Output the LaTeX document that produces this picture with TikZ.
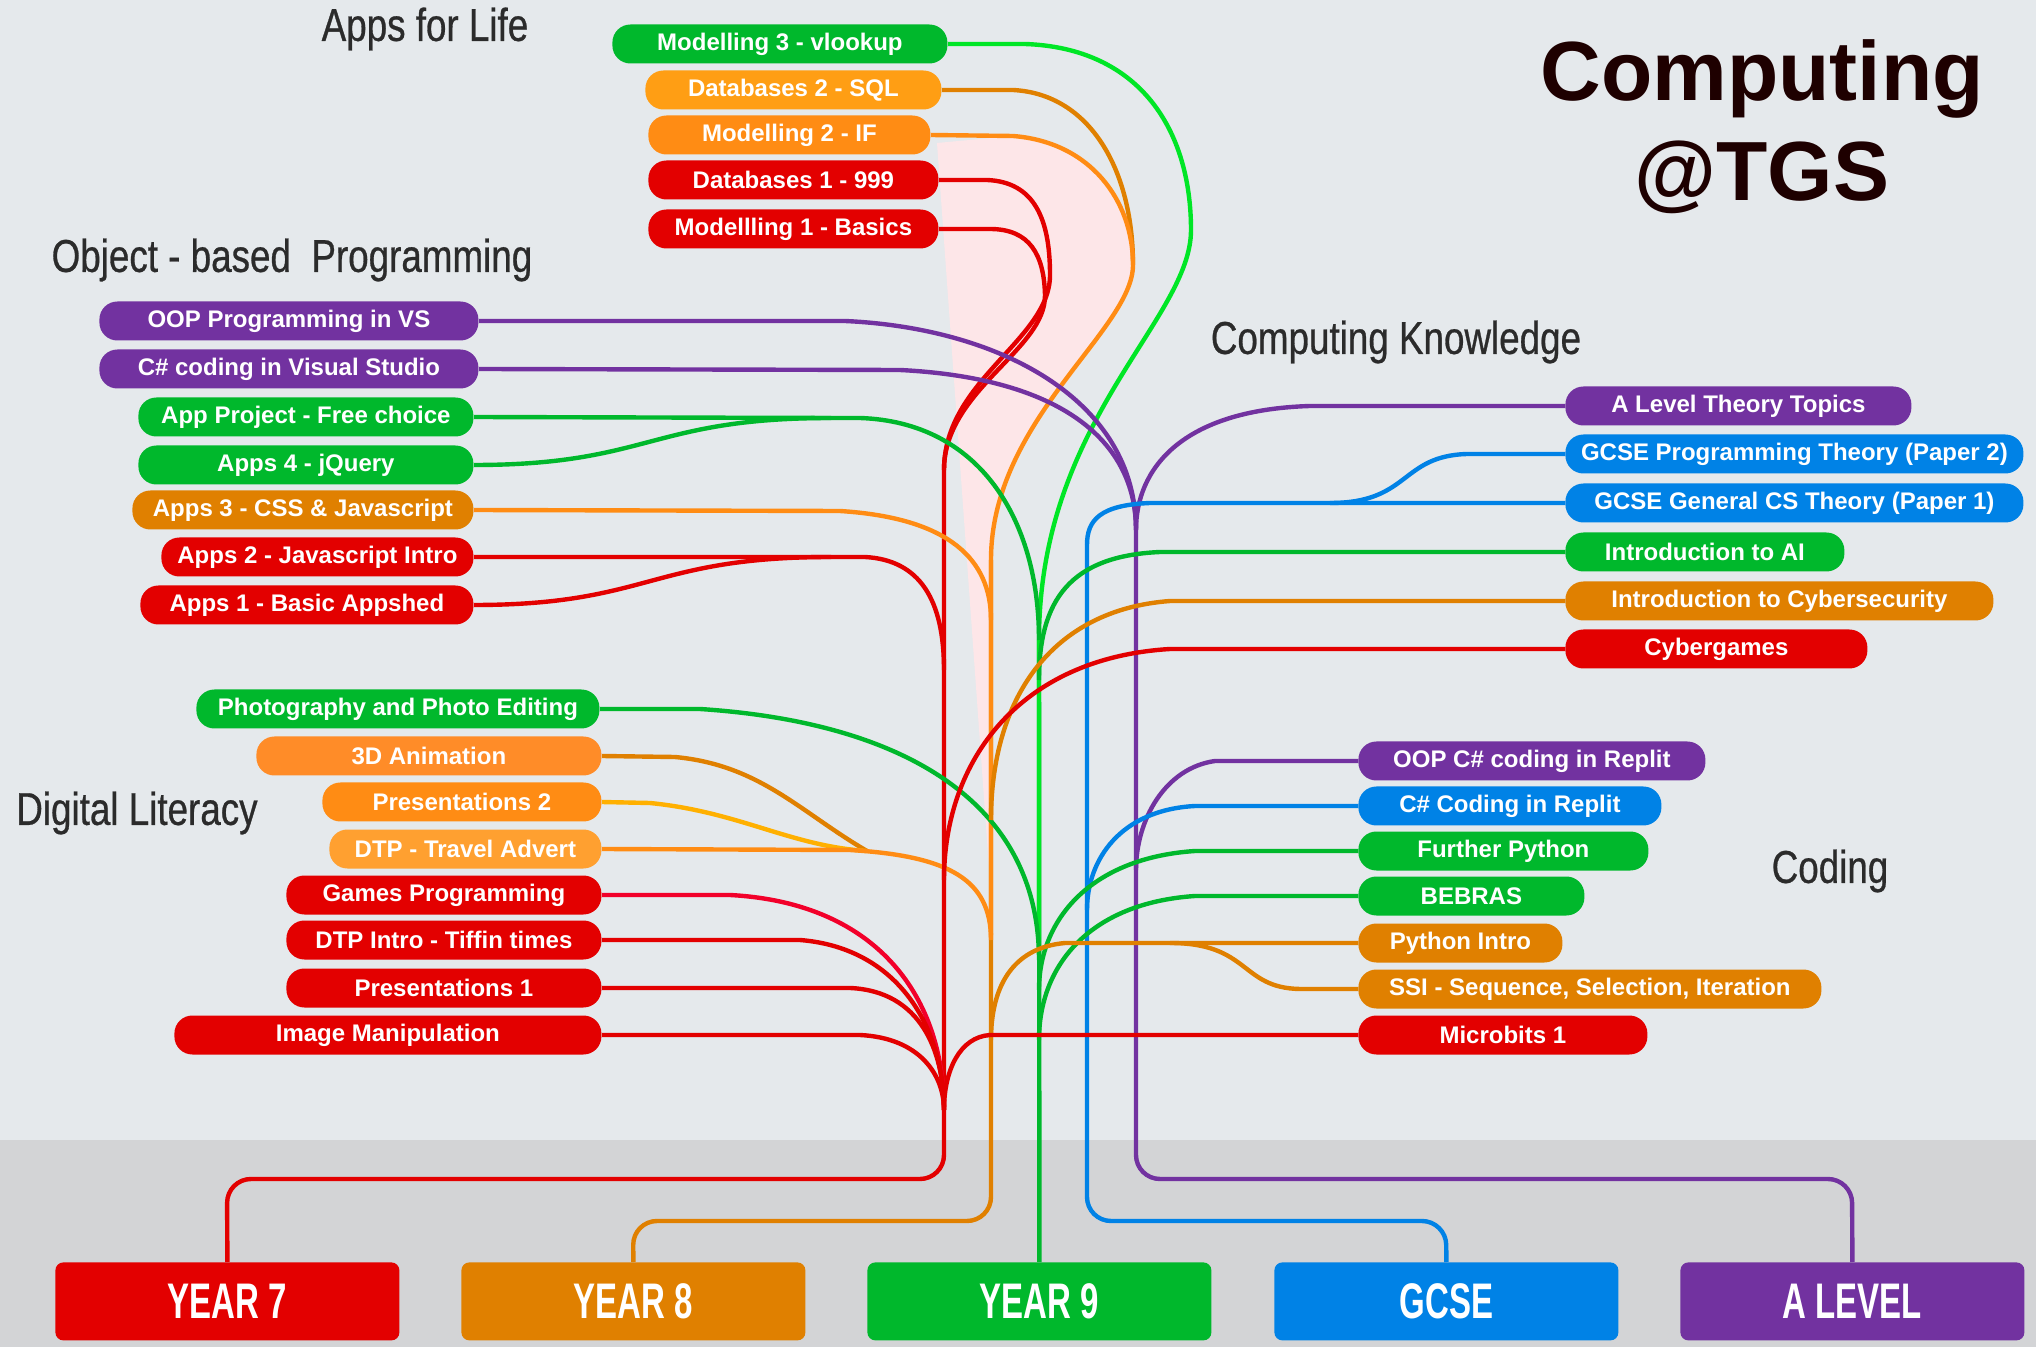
\documentclass[tikz,border=0pt]{standalone}
\usepackage{fontspec}
\setmainfont{Liberation Sans}
\newfontfamily\headfont[FakeStretch=0.8, FakeBold=0.6]{Liberation Sans}
\newfontfamily\yearfont[FakeStretch=0.66]{Liberation Sans}

\definecolor{bgtop}{HTML}{E5E9EC}
\definecolor{bgband}{HTML}{D3D4D6}
\definecolor{tred}{HTML}{E30000}
\definecolor{tredpink}{HTML}{F2002A}
\definecolor{torange}{HTML}{E08000}
\definecolor{tamber}{HTML}{FF8C14}
\definecolor{tpeach}{HTML}{FF9E14}
\definecolor{tapricot}{HTML}{FFA030}
\definecolor{tcarrot}{HTML}{FF8C28}
\definecolor{tyellow}{HTML}{FFB000}
\definecolor{tgreen}{HTML}{00B82C}
\definecolor{tlime}{HTML}{00E626}
\definecolor{tblue}{HTML}{0082E6}
\definecolor{tpurple}{HTML}{7232A0}
\definecolor{tpink}{HTML}{FDE6E8}
\definecolor{headgrey}{HTML}{2B2B2B}
\definecolor{titlecol}{HTML}{1E0000}

\begin{document}
\begin{tikzpicture}[
    x = 0.5pt,
    y = -0.5pt,
    pill/.style = {
      fill = #1,
      text = white,
      rounded corners = 9pt,
      font = \bfseries\fontsize{12}{14}\selectfont,
      minimum height = 19.5pt,
      inner sep = 0pt,
      anchor = west
    },
    yearbox/.style = {
      fill = #1,
      text = white,
      rounded corners = 4pt,
      font = \yearfont\bfseries\fontsize{25}{30}\selectfont,
      minimum width = 172pt,
      minimum height = 39pt,
      inner sep = 0pt,
      anchor = north west
    },
    heading/.style = {
      text = headgrey,
      font = \headfont\fontsize{23}{27}\selectfont
    },
    link/.style = {draw = #1, line width = 2.2pt},
    trunk/.style = {draw = #1, line width = 2.2pt, rounded corners = 12pt}
  ]
  \useasboundingbox (0,0) rectangle (2036,1347);
  \fill[bgtop] (0,0) rectangle (2036,1347);
  \fill[bgband] (0,1140) rectangle (2036,1347);

  \fill[tpink] (937,143) -- (1013,136) .. controls (1090,142) and (1133,200) .. (1133,265)
    .. controls (1133,330) and (991,420) .. (991,560) -- (991,896) -- cycle;

  \node[text = titlecol, font = \bfseries\fontsize{42}{50}\selectfont, align = center] (title) at (1762,127) {Computing\\@TGS};

  \node[heading] (hlife) at (425,29) {Apps for Life};
  \node[heading] (hoop) at (292,260) {Object - based\ \ Programming};
  \node[heading] (hknow) at (1396,342) {Computing Knowledge};
  \node[heading] (hlit) at (137,813) {Digital Literacy};
  \node[heading] (hcode) at (1830,871) {Coding};

  \node[pill = tgreen, minimum width = 167.5pt] (m3) at (612,44) {Modelling 3 - vlookup};
  \node[pill = tpeach, minimum width = 148pt] (db2) at (645,90) {Databases 2 - SQL};
  \node[pill = tamber, minimum width = 141pt] (m2) at (648,135) {Modelling 2 - IF};
  \node[pill = tred, minimum width = 145pt] (db1) at (648,180) {Databases 1 - 999};
  \node[pill = tred, minimum width = 145pt] (m1) at (648,229) {Modellling 1 - Basics};

  \node[pill = tpurple, minimum width = 189.5pt] (oopvs) at (99,321) {OOP Programming in VS};
  \node[pill = tpurple, minimum width = 189.5pt] (csvs) at (99,369) {C\# coding in Visual Studio};
  \node[pill = tgreen, minimum width = 167.5pt] (appproj) at (138,417) {App Project - Free choice};
  \node[pill = tgreen, minimum width = 167.5pt] (apps4) at (138,465) {Apps 4 - jQuery};
  \node[pill = torange, minimum width = 170.5pt] (apps3) at (132,510) {Apps 3 - CSS \& Javascript};
  \node[pill = tred, minimum width = 156pt] (apps2) at (161,557) {Apps 2 - Javascript Intro};
  \node[pill = tred, minimum width = 166.5pt] (apps1) at (140,605) {Apps 1 - Basic Appshed};

  \node[pill = tgreen, minimum width = 201.5pt] (photo) at (196,709) {Photography and Photo Editing};
  \node[pill = tcarrot, minimum width = 172.5pt] (anim) at (256,756) {3D Animation};
  \node[pill = tamber, minimum width = 139.5pt] (pres2) at (322,802) {Presentations 2};
  \node[pill = tapricot, minimum width = 136pt] (dtptravel) at (329,849) {DTP - Travel Advert};
  \node[pill = tred, minimum width = 157.5pt] (games) at (286,895) {Games Programming};
  \node[pill = tred, minimum width = 157.5pt] (dtpintro) at (286,940) {DTP Intro - Tiffin times};
  \node[pill = tred, minimum width = 157.5pt] (pres1) at (286,988) {Presentations 1};
  \node[pill = tred, minimum width = 213.5pt] (imgman) at (174,1035) {Image Manipulation};

  \node[pill = tpurple, minimum width = 173pt] (altheory) at (1565,406) {A Level Theory Topics};
  \node[pill = tblue, minimum width = 229pt] (gcsep2) at (1565,454) {GCSE Programming Theory (Paper 2)};
  \node[pill = tblue, minimum width = 229pt] (gcsep1) at (1565,503) {GCSE General CS Theory (Paper 1)};
  \node[pill = tgreen, minimum width = 139.5pt] (introai) at (1565,552) {Introduction to AI};
  \node[pill = torange, minimum width = 214pt] (cyber) at (1565,601) {Introduction to Cybersecurity};
  \node[pill = tred, minimum width = 151pt] (cybergames) at (1565,649) {Cybergames};

  \node[pill = tpurple, minimum width = 173.5pt] (oopreplit) at (1358,761) {OOP C\# coding in Replit};
  \node[pill = tblue, minimum width = 151.5pt] (csreplit) at (1358,806) {C\# Coding in Replit};
  \node[pill = tgreen, minimum width = 145pt] (furtherpy) at (1358,851) {Further Python};
  \node[pill = tgreen, minimum width = 113pt] (bebras) at (1358,896) {BEBRAS};
  \node[pill = torange, minimum width = 102pt] (pyintro) at (1358,943) {Python Intro};
  \node[pill = torange, minimum width = 231.5pt] (ssi) at (1358,989) {SSI - Sequence, Selection, Iteration};
  \node[pill = tred, minimum width = 144.5pt] (microbits) at (1358,1035) {Microbits 1};

  \node[yearbox = tred] (y7) at (55,1262) {YEAR 7};
  \node[yearbox = torange] (y8) at (461,1262) {YEAR 8};
  \node[yearbox = tgreen] (y9) at (867,1262) {YEAR 9};
  \node[yearbox = tblue] (gcse) at (1274,1262) {GCSE};
  \node[yearbox = tpurple] (alev) at (1680,1262) {A LEVEL};

  \coordinate (redtop) at (944,470);
  \coordinate (redA) at (944,670);
  \coordinate (redB) at (944,880);
  \coordinate (redfoot) at (944,1110);
  \coordinate (orgmerge) at (1133,265);
  \coordinate (orgtop) at (991,560);
  \coordinate (orgA) at (991,620);
  \coordinate (orgB) at (991,820);
  \coordinate (orgmid) at (991,935);
  \coordinate (orgC) at (991,940);
  \coordinate (orgfoot) at (991,1040);
  \coordinate (grntop) at (1039,640);
  \coordinate (grnA) at (1039,680);
  \coordinate (grnmid) at (1039,950);
  \coordinate (grnB) at (1039,960);
  \coordinate (grnC) at (1039,990);
  \coordinate (grnfoot) at (1039,1040);
  \coordinate (bluetop) at (1087,545);
  \coordinate (blueA) at (1087,910);
  \coordinate (purtop) at (1136,530);
  \coordinate (purA) at (1136,870);
  \coordinate (appj) at (831,418);
  \coordinate (apps2j) at (831,557);
  \coordinate (dtpj) at (867,851);
  \coordinate (gcsej) at (1330,503);
  \coordinate (pyj) at (1170,943);

  \draw[trunk = tred] (redtop) -- (944,1179) -- (227,1179) -- (y7.north);
  \draw[trunk = torange] (orgtop) -- (991,1221) -- (633,1221) -- (y8.north);
  \draw[trunk = tgreen] (grntop) -- (y9.north);
  \draw[trunk = tblue] (bluetop) -- (1087,1221) -- (1446,1221) -- (gcse.north);
  \draw[trunk = tpurple] (purtop) -- (1136,1179) -- (1852,1179) -- (alev.north);

  \draw[link = tlime] (m3.east) -- (1025,44) .. controls (1140,48) and (1191,130) .. (1191,230)
    .. controls (1191,320) and (1039,420) .. (grntop) -- (grnmid);
  \draw[link = torange] (db2.east) -- (1013,90) .. controls (1090,94) and (1133,170) .. (orgmerge);
  \draw[link = tamber] (m2.east) -- (1013,136) .. controls (1090,142) and (1133,200) .. (orgmerge)
    .. controls (1133,330) and (991,420) .. (orgtop) -- (orgmid);
  \draw[link = tred] (db1.east) -- (987,180) .. controls (1035,182) and (1050,220) .. (1050,275)
    .. controls (1050,340) and (944,380) .. (redtop);
  \draw[link = tred] (m1.east) -- (990,229) .. controls (1030,229) and (1044,255) .. (1045,295)
    .. controls (1046,350) and (944,390) .. (redtop);

  \draw[link = tpurple] (oopvs.east) -- (845,321) .. controls (1000,328) and (1136,400) .. (purtop);
  \draw[link = tpurple] (csvs.east) -- (900,370) .. controls (1060,378) and (1136,440) .. (purtop);
  \draw[link = tgreen] (appproj.east) -- (appj) -- (860,418) .. controls (980,422) and (1039,520) .. (grntop);
  \draw[link = tgreen] (apps4.east) .. controls (650,465) and (650,418) .. (appj);
  \draw[link = tamber] (apps3.east) -- (840,511) .. controls (950,518) and (991,560) .. (orgA);
  \draw[link = tred] (apps2.east) -- (apps2j) -- (865,557) .. controls (920,560) and (944,600) .. (redA);
  \draw[link = tred] (apps1.east) .. controls (650,605) and (650,557) .. (apps2j);

  \draw[link = tgreen] (photo.east) -- (700,709) .. controls (900,722) and (1039,800) .. (grnB);
  \draw[link = torange] (anim.east) -- (675,757) .. controls (760,765) and (800,812) .. (dtpj);
  \draw[link = tyellow] (pres2.east) -- (650,803) .. controls (740,812) and (790,846) .. (dtpj);
  \draw[link = tamber] (dtptravel.east) -- (850,850) .. controls (950,856) and (991,880) .. (orgC);
  \draw[link = tredpink] (games.east) -- (730,895) .. controls (880,903) and (944,1000) .. (redfoot);
  \draw[link = tred] (dtpintro.east) -- (800,940) .. controls (900,948) and (944,1030) .. (redfoot);
  \draw[link = tred] (pres1.east) -- (850,988) .. controls (920,991) and (944,1050) .. (redfoot);
  \draw[link = tred] (imgman.east) -- (860,1035) .. controls (920,1038) and (944,1075) .. (redfoot);

  \draw[link = tpurple] (altheory.west) -- (1310,406) .. controls (1180,410) and (1136,470) .. (purtop);
  \draw[link = tblue] (gcsep2.west) -- (1467,454) .. controls (1400,456) and (1410,503) .. (gcsej);
  \draw[link = tblue] (gcsep1.west) -- (1150,503) .. controls (1100,505) and (1087,520) .. (bluetop);
  \draw[link = tgreen] (introai.west) -- (1160,552) .. controls (1070,556) and (1039,600) .. (grnA);
  \draw[link = torange] (cyber.west) -- (1170,601) .. controls (1050,610) and (991,700) .. (orgB);
  \draw[link = tred] (cybergames.west) -- (1170,649) .. controls (1020,658) and (944,760) .. (redB);

  \draw[link = tpurple] (oopreplit.west) -- (1215,761) .. controls (1165,768) and (1136,820) .. (purA);
  \draw[link = tblue] (csreplit.west) -- (1195,806) .. controls (1120,810) and (1087,860) .. (blueA);
  \draw[link = tgreen] (furtherpy.west) -- (1195,851) .. controls (1090,858) and (1039,920) .. (grnC);
  \draw[link = tgreen] (bebras.west) -- (1195,896) .. controls (1090,903) and (1039,965) .. (grnfoot);
  \draw[link = torange] (pyintro.west) -- (pyj) -- (1065,943) .. controls (1010,948) and (991,990) .. (orgfoot);
  \draw[link = torange] (ssi.west) -- (1300,989) .. controls (1240,988) and (1250,943) .. (pyj);
  \draw[link = tred] (microbits.west) -- (990,1035) .. controls (960,1037) and (944,1070) .. (redfoot);
\end{tikzpicture}
\end{document}
